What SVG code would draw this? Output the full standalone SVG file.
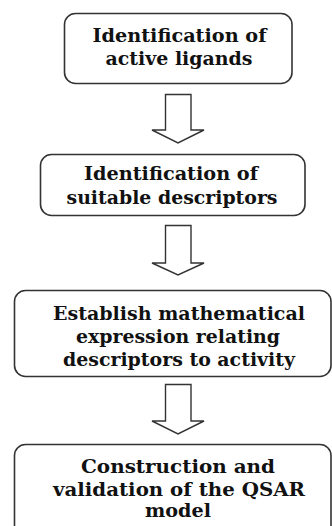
<svg xmlns="http://www.w3.org/2000/svg" width="332" height="526" viewBox="0 0 332 526">
<style>
.box{fill:#fff;stroke:#333;stroke-width:1.6}
.arr{fill:#fff;stroke:#333;stroke-width:1.4;stroke-linejoin:miter}
.t{font-family:'DejaVu Serif','Liberation Serif',serif;font-weight:700;font-size:18px;fill:#111;text-anchor:middle}
</style>
<rect width="332" height="526" fill="#fff"/>
<g id="node1">
<rect class="box" x="64.5" y="13.5" width="227.5" height="70" rx="11"/>
<text class="t" x="179.5" y="42" textLength="174" lengthAdjust="spacingAndGlyphs">Identification of</text>
<text class="t" x="179" y="65" textLength="147" lengthAdjust="spacingAndGlyphs">active ligands</text>
</g>
<g id="node2">
<rect class="box" x="40.5" y="154.5" width="264.5" height="61" rx="11"/>
<text class="t" x="171" y="180" textLength="174" lengthAdjust="spacingAndGlyphs">Identification of</text>
<text class="t" x="172" y="204" textLength="211" lengthAdjust="spacingAndGlyphs">suitable descriptors</text>
</g>
<g id="node3">
<rect class="box" x="14.5" y="290.5" width="316.5" height="86" rx="11"/>
<text class="t" x="179" y="320" textLength="252" lengthAdjust="spacingAndGlyphs">Establish mathematical</text>
<text class="t" x="178" y="343" textLength="204" lengthAdjust="spacingAndGlyphs">expression relating</text>
<text class="t" x="179" y="366" textLength="232" lengthAdjust="spacingAndGlyphs">descriptors to activity</text>
</g>
<g id="node4">
<rect class="box" x="14.5" y="444.5" width="316.5" height="100" rx="11"/>
<text class="t" x="178" y="473" textLength="194" lengthAdjust="spacingAndGlyphs">Construction and</text>
<text class="t" x="179" y="496" textLength="252" lengthAdjust="spacingAndGlyphs">validation of the QSAR</text>
<text class="t" x="178" y="517" textLength="66" lengthAdjust="spacingAndGlyphs">model</text>
</g>
<g id="connectors">
<path class="arr" d="M165.5 94.5 H191 V130 H204 L178 143 L152 130 H165.5 Z"/>
<path class="arr" d="M165.5 225.5 H191 V263 H204 L178 275 L152 263 H165.5 Z"/>
<path class="arr" d="M165.5 384.5 H191 V421 H204 L178 434 L152 421 H165.5 Z"/>
</g>
</svg>
